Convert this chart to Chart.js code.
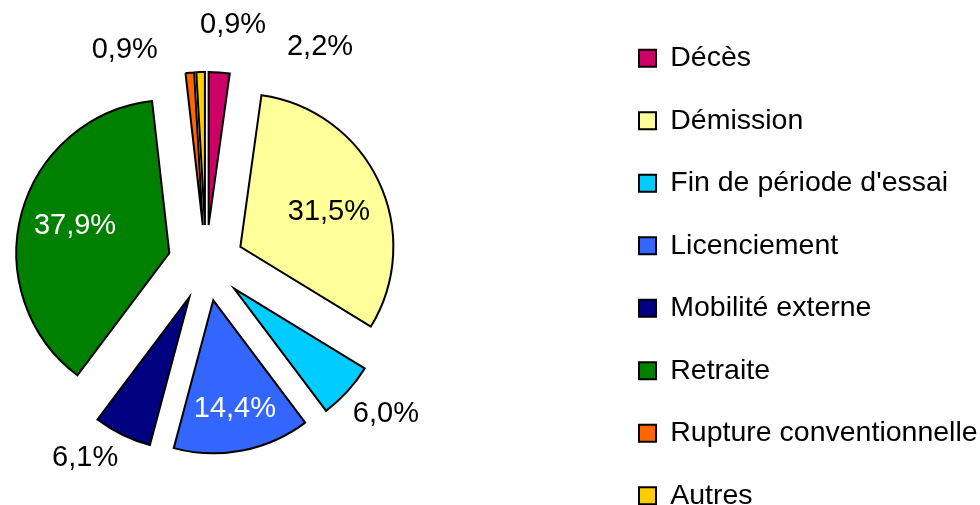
<!DOCTYPE html>
<html>
<head>
<meta charset="utf-8">
<script src="https://cdn.jsdelivr.net/npm/chart.js@4/dist/chart.umd.min.js"></script>
<style>
html, body { margin: 0; padding: 0; background: #fff; width: 980px; height: 505px; overflow: hidden; }
#chart { position: absolute; }
</style>
</head>
<body>
<canvas id="chart"></canvas>
<script>
const categories = ["Décès", "Démission", "Fin de période d'essai", "Licenciement", "Mobilité externe", "Retraite", "Rupture conventionnelle", "Autres"];
const shares = [2.2, 31.5, 6.0, 14.4, 6.1, 37.9, 0.9, 0.9];
const colors = ["#CC0066", "#FFFF99", "#00CCFF", "#3366FF", "#000080", "#008000", "#FF6600", "#FFCC00"];
const labelColors = ["#000", "#000", "#000", "#fff", "#000", "#fff", "#000", "#000"];
// label placement: turn from the slice middle (degrees) and distance from the pie centre
const labelTurn = [23.9, 2.8, -2.2, -0.2, 5.9, 0.4, -16, 8.1];
const labelDist = [244, 133, 235, 149, 229, 136, 228, 240];

const FAMILY = "'Liberation Sans', Arial, sans-serif";
const FONT_SIZE = 28.5;
const LABEL_SIZE = 29;
const PIE_X = 205.5, PIE_Y = 263, RADIUS = 153, EXPLODE = 38;
const BOX = 17, PAD = 34, FIRST_ROW = 58.25, BOX_LEFT = 638.5;

// size and place the canvas so the pie and the legend land where they are in the picture
const measure = document.createElement("canvas").getContext("2d");
measure.font = FONT_SIZE + "px " + FAMILY;
let textW = 0;
for (const c of categories) textW = Math.max(textW, measure.measureText(c).width);
const itemW = BOX + FONT_SIZE / 2 + textW;
const legendLeft = BOX_LEFT - PAD;
const canvasLeft = 2 * PIE_X - legendLeft;
// Chart.js adds 10px to the width of a side legend
const exactW = BOX_LEFT + itemW + 10 - canvasLeft;
const canvasW = Math.ceil(exactW);
const colH = categories.length * (FONT_SIZE + PAD);
const canvasH = 2 * (FIRST_ROW - FONT_SIZE / 2 + colH - PIE_Y);
const canvasTop = PIE_Y - canvasH / 2;

const canvas = document.getElementById("chart");
canvas.width = canvasW;
canvas.height = canvasH;
canvas.style.left = canvasLeft + "px";
canvas.style.top = canvasTop + "px";

const explode = {
    id: "explode",
    beforeDatasetDraw(chart, args) {
        const ctx = chart.ctx;
        for (const arc of args.meta.data) {
            const mid = (arc.startAngle + arc.endAngle) / 2;
            ctx.save();
            ctx.translate(Math.cos(mid) * EXPLODE, Math.sin(mid) * EXPLODE);
            arc.draw(ctx);
            ctx.restore();
        }
        return false;
    }
};

const sliceLabels = {
    id: "sliceLabels",
    afterDatasetsDraw(chart) {
        const ctx = chart.ctx;
        const arcs = chart.getDatasetMeta(0).data;
        ctx.save();
        ctx.font = LABEL_SIZE + "px " + FAMILY;
        ctx.textAlign = "center";
        ctx.textBaseline = "middle";
        arcs.forEach((arc, i) => {
            const a = (arc.startAngle + arc.endAngle) / 2 + labelTurn[i] * Math.PI / 180;
            ctx.fillStyle = labelColors[i];
            var text = shares[i].toFixed(1).replace(".", ",") + "%";
            ctx.fillText(text, arc.x + Math.cos(a) * labelDist[i], arc.y + Math.sin(a) * labelDist[i]);
        });
        ctx.restore();
    }
};

new Chart(canvas, {
    type: "pie",
    data: {
        labels: categories,
        datasets: [{
            data: shares,
            backgroundColor: colors,
            borderColor: "#000",
            borderWidth: 2,
            borderJoinStyle: "miter"
        }]
    },
    options: {
        responsive: false,
        animation: false,
        events: [],
        radius: RADIUS,
        layout: { padding: { left: 0, top: 0, bottom: 0, right: canvasW - exactW } },
        plugins: {
            legend: {
                position: "right",
                align: "end",
                labels: {
                    boxWidth: BOX,
                    boxHeight: BOX,
                    padding: PAD,
                    color: "#000",
                    font: { family: FAMILY, size: FONT_SIZE }
                }
            },
            tooltip: { enabled: false }
        }
    },
    plugins: [explode, sliceLabels]
});
</script>
</body>
</html>
